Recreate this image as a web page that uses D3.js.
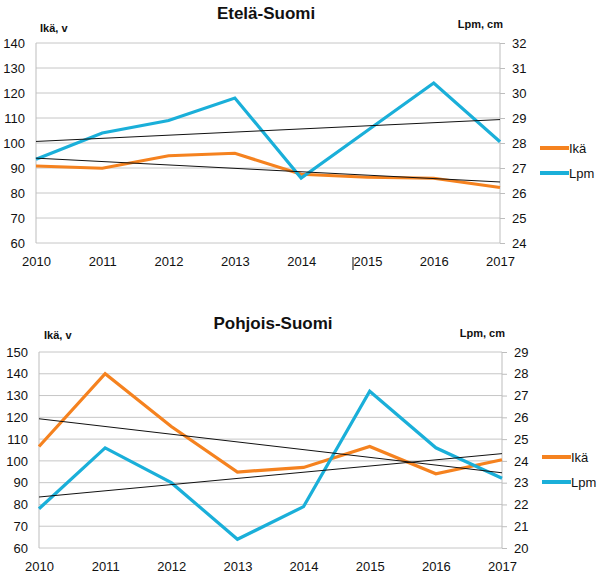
<!DOCTYPE html>
<html>
<head>
<meta charset="utf-8">
<script src="https://cdn.jsdelivr.net/npm/d3@7"></script>
<style>
  body { margin: 0; background: #fff; }
  text { font-family: "Liberation Sans", Arial, sans-serif; fill: #111; }
</style>
</head>
<body>
<svg id="chart" width="600" height="579"></svg>
<script>
// years on the x axis
const years = [2010, 2011, 2012, 2013, 2014, 2015, 2016, 2017];

// Etelä-Suomi
const southIka = [90.8, 89.9, 94.9, 95.9, 87.5, 86.3, 85.9, 82.2];
const southLpm = [27.35, 28.4, 28.9, 29.8, 26.6, 28.5, 30.4, 28.05];
const southLeftTicks = [60, 70, 80, 90, 100, 110, 120, 130, 140];
const southRightTicks = [24, 25, 26, 27, 28, 29, 30, 31, 32];

// Pohjois-Suomi
const northIka = [106.6, 140, 115.8, 94.9, 97, 106.6, 94.1, 100.5];
const northLpm = [21.8, 24.6, 23.0, 20.4, 21.9, 27.2, 24.6, 23.2];
const northLeftTicks = [60, 70, 80, 90, 100, 110, 120, 130, 140, 150];
const northRightTicks = [20, 21, 22, 23, 24, 25, 26, 27, 28, 29];

const seriesNames = ["Ikä", "Lpm"];
const colors = { "Ikä": "#f5821f", "Lpm": "#1aafd9" };

const svg = d3.select("#chart");

// excel style linear trend line
function trend(values) {
    const n = values.length;
    const mx = d3.mean(values, (d, i) => i);
    const my = d3.mean(values);
    let sxy = 0, sxx = 0;
    values.forEach((v, i) => { sxy += (i - mx) * (v - my); sxx += (i - mx) * (i - mx); });
    const b = sxy / sxx;
    return [my - b * mx, my + b * (n - 1 - mx)];
}

function drawPanel(p) {
    const g = svg.append("g");

    const x = d3.scaleLinear().domain([years[0], years[years.length - 1]]).range([p.left, p.right]);
    const yL = d3.scaleLinear().domain(d3.extent(p.leftTicks)).range([p.bottom, p.top]);
    const yR = d3.scaleLinear().domain(d3.extent(p.rightTicks)).range([p.bottom, p.top]);

    // grid
    g.selectAll(".grid").data(p.leftTicks).join("line")
        .attr("x1", p.left).attr("x2", p.right)
        .attr("y1", d => yL(d)).attr("y2", d => yL(d))
        .attr("stroke", "#c6c6c6").attr("stroke-width", 1);

    g.append("line").attr("x1", p.left).attr("x2", p.left).attr("y1", p.top).attr("y2", p.bottom)
        .attr("stroke", "#bdbdbd");
    g.append("line").attr("x1", p.right).attr("x2", p.right).attr("y1", p.top).attr("y2", p.bottom)
        .attr("stroke", "#bdbdbd");

    // left axis
    const axL = g.append("g").attr("transform", "translate(" + p.left + ",0)")
        .call(d3.axisLeft(yL).tickValues(p.leftTicks).tickSize(0).tickPadding(p.left - p.leftLabelX));
    axL.select(".domain").remove();
    axL.selectAll("text").style("font-size", "13px").attr("fill", "#111");

    // right axis
    const axR = g.append("g").attr("transform", "translate(" + p.right + ",0)")
        .call(d3.axisRight(yR).tickValues(p.rightTicks).tickSize(5).tickPadding(7));
    axR.select(".domain").remove();
    axR.selectAll("line").attr("stroke", "#bdbdbd");
    axR.selectAll("text").style("font-size", "13px").attr("fill", "#111");

    // x axis
    const axX = g.append("g").attr("transform", "translate(0," + p.bottom + ")")
        .call(d3.axisBottom(x).tickValues(years).tickFormat(d3.format("d")).tickSize(0).tickPadding(p.xPad));
    axX.select(".domain").remove();
    axX.selectAll("text").style("font-size", "13px").attr("fill", "#111");

    // titles
    g.append("text").attr("x", p.titleX).attr("y", p.titleY).attr("text-anchor", "middle")
        .style("font-size", "17px").style("font-weight", "bold").text(p.title);
    g.append("text").attr("x", p.leftLabelPos[0]).attr("y", p.leftLabelPos[1])
        .style("font-size", "11px").style("font-weight", "bold").text("Ikä, v");
    g.append("text").attr("x", p.rightLabelPos[0]).attr("y", p.rightLabelPos[1]).attr("text-anchor", "end")
        .style("font-size", "11px").style("font-weight", "bold").text("Lpm, cm");

    const line = d3.line().x((d, i) => x(years[i]));

    g.append("path").datum(p.ika).attr("fill", "none").attr("stroke", colors["Ikä"])
        .attr("stroke-width", 3.2).attr("stroke-linejoin", "miter")
        .attr("d", line.y(d => yL(d)));
    g.append("path").datum(p.lpm).attr("fill", "none").attr("stroke", colors["Lpm"])
        .attr("stroke-width", 3.2).attr("stroke-linejoin", "miter")
        .attr("d", line.y(d => yR(d)));

    // trend lines
    const tI = trend(p.ika), tL = trend(p.lpm);
    g.append("line").attr("x1", x(years[0])).attr("x2", x(years[years.length - 1]))
        .attr("y1", yL(tI[0])).attr("y2", yL(tI[1])).attr("stroke", "#111").attr("stroke-width", 1);
    g.append("line").attr("x1", x(years[0])).attr("x2", x(years[years.length - 1]))
        .attr("y1", yR(tL[0])).attr("y2", yR(tL[1])).attr("stroke", "#111").attr("stroke-width", 1);

    // legend
    const lg = g.selectAll(".lg").data(seriesNames).join("g")
        .attr("transform", (d, i) => "translate(" + p.legendX + "," + (p.legendY + i * 25) + ")");
    lg.append("line").attr("x1", 0).attr("x2", 29).attr("stroke", d => colors[d]).attr("stroke-width", 4);
    lg.append("text").attr("x", 29).attr("y", 5).style("font-size", "13px").text(d => d);
}

drawPanel({
    title: "Etelä-Suomi", titleX: 266, titleY: 19,
    left: 36, right: 500, top: 43, bottom: 243,
    leftLabelX: 25, xPad: 14,
    leftTicks: southLeftTicks, rightTicks: southRightTicks,
    ika: southIka, lpm: southLpm,
    leftLabelPos: [40, 32], rightLabelPos: [503, 28],
    legendX: 540, legendY: 148
});

drawPanel({
    title: "Pohjois-Suomi", titleX: 273, titleY: 329,
    left: 39, right: 502, top: 352, bottom: 548,
    leftLabelX: 28, xPad: 14,
    leftTicks: northLeftTicks, rightTicks: northRightTicks,
    ika: northIka, lpm: northLpm,
    leftLabelPos: [44, 339], rightLabelPos: [505, 337],
    legendX: 542, legendY: 457
});

// stray cursor mark next to 2015 in the source image
svg.append("line").attr("x1", 353).attr("x2", 353).attr("y1", 257).attr("y2", 270)
    .attr("stroke", "#333").attr("stroke-width", 1.2);
</script>
</body>
</html>
